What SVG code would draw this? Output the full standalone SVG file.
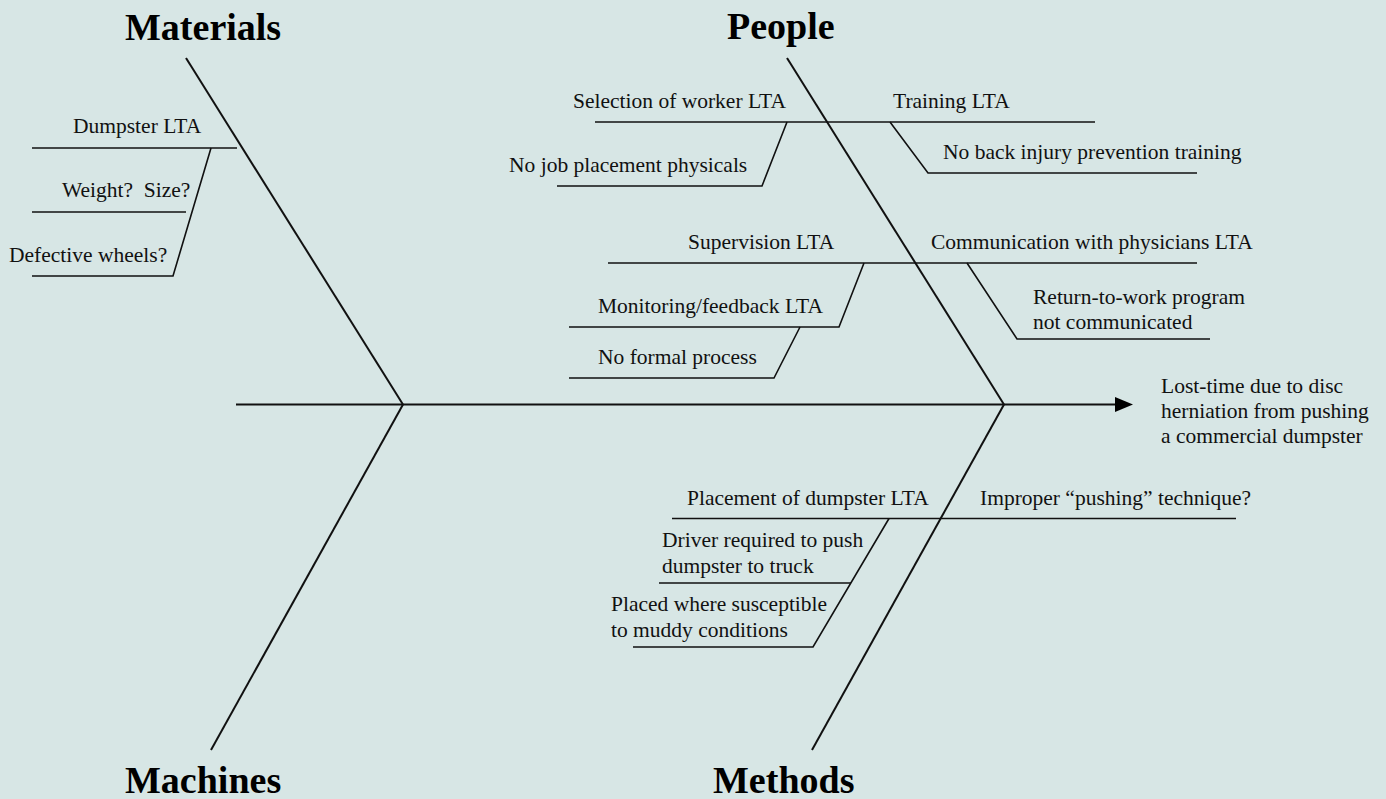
<svg xmlns="http://www.w3.org/2000/svg" width="1386" height="799" viewBox="0 0 1386 799">
<style>
.bg{fill:#d7e6e5}
.bone{stroke:#111;stroke-width:2;fill:none;stroke-linecap:butt}
.sub{stroke:#111;stroke-width:1.6;fill:none}
.t{font-family:"Liberation Serif","Times New Roman",serif;font-size:21.5px;fill:#111}
.h{font-family:"Liberation Serif","Times New Roman",serif;font-size:38px;font-weight:bold;fill:#000}
</style>
<defs>
<marker id="arrow" markerUnits="userSpaceOnUse" markerWidth="18" markerHeight="16" refX="0" refY="8" orient="auto">
<polygon points="0,0.5 18,8 0,15.5" fill="#000"/>
</marker>
</defs>
<rect class="bg" x="0" y="0" width="1386" height="799"/>
<g id="connectors">
<line class="bone" x1="236" y1="404.5" x2="1115" y2="404.5" marker-end="url(#arrow)"/>
<line class="bone" x1="186" y1="58" x2="403" y2="404.5"/>
<line class="bone" x1="403" y1="404.5" x2="211" y2="750"/>
<line class="bone" x1="787" y1="58" x2="1004" y2="404.5"/>
<line class="bone" x1="1004" y1="404.5" x2="812" y2="750"/>
<polyline class="sub" points="32,148 237,148"/>
<polyline class="sub" points="211,148 173,276 32,276"/>
<polyline class="sub" points="32,212 186,212"/>
<polyline class="sub" points="595,122 1095,122"/>
<polyline class="sub" points="787,122 762,186 557,186"/>
<polyline class="sub" points="890,122 928,173 1197,173"/>
<polyline class="sub" points="608,263 1197,263"/>
<polyline class="sub" points="864,263 839,327 569,327"/>
<polyline class="sub" points="800,327 774,378 569,378"/>
<polyline class="sub" points="967,263 1017,339 1210,339"/>
<polyline class="sub" points="672,518.5 1236,518.5"/>
<polyline class="sub" points="889,518.5 813,647 633,647"/>
<polyline class="sub" points="659,583 851,583"/>
</g>
<g id="materials">
<text class="h" x="125" y="39.5">Materials</text>
<text class="t" x="73" y="133">Dumpster LTA</text>
<text class="t" x="62" y="197" style="white-space:pre">Weight?  Size?</text>
<text class="t" x="9" y="262">Defective wheels?</text>
</g>
<g id="people">
<text class="h" x="727" y="38.5">People</text>
<text class="t" x="573" y="108">Selection of worker LTA</text>
<text class="t" x="509" y="172">No job placement physicals</text>
<text class="t" x="893" y="107.5">Training LTA</text>
<text class="t" x="943" y="159">No back injury prevention training</text>
<text class="t" x="688" y="249">Supervision LTA</text>
<text class="t" x="598" y="313">Monitoring/feedback LTA</text>
<text class="t" x="598" y="364">No formal process</text>
<text class="t" x="931" y="248.5">Communication with physicians LTA</text>
<text class="t" x="1033" y="304">Return-to-work program</text>
<text class="t" x="1033" y="329">not communicated</text>
</g>
<g id="effect">
<text class="t" x="1161" y="393">Lost-time due to disc</text>
<text class="t" x="1161" y="418">herniation from pushing</text>
<text class="t" x="1161" y="443">a commercial dumpster</text>
</g>
<g id="methods">
<text class="h" x="713" y="793">Methods</text>
<text class="t" x="687" y="505">Placement of dumpster LTA</text>
<text class="t" x="980" y="505">Improper “pushing” technique?</text>
<text class="t" x="662" y="547">Driver required to push</text>
<text class="t" x="662" y="572.5">dumpster to truck</text>
<text class="t" x="611" y="611">Placed where susceptible</text>
<text class="t" x="611" y="637">to muddy conditions</text>
</g>
<g id="machines">
<text class="h" x="125" y="793">Machines</text>
</g>
</svg>
